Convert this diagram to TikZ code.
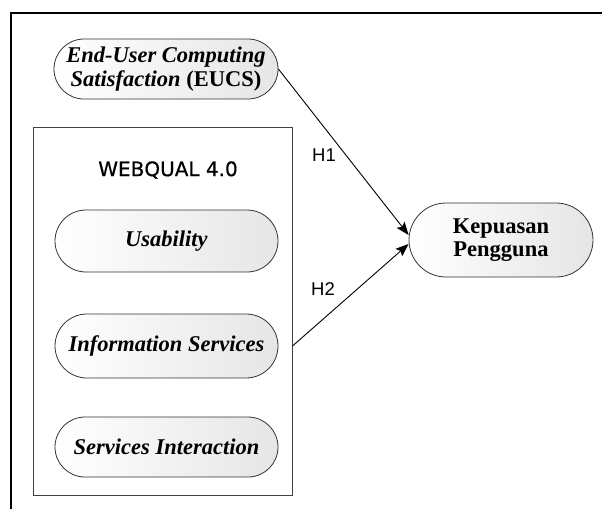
\documentclass[tikz,border=0pt]{standalone}
\usepackage{fontspec}
\setmainfont{Liberation Serif}
\newfontfamily\wqfont[FakeBold=0.6]{DejaVu Sans}
\newfontfamily\hfont{Liberation Sans}
\usetikzlibrary{shapes.misc,arrows.meta,calc}
\begin{document}
\begin{tikzpicture}[x=1pt,y=-1pt,
  pill/.style={rounded rectangle, draw=black!80, line width=0.8pt,
    left color=white, right color=black!10, align=center,
    font=\bfseries\fontsize{22.5}{23.5}\selectfont, inner sep=0pt},
  grpbox/.style={rectangle, draw=black!75, line width=1pt, inner sep=0pt},
  hlabel/.style={font=\hfont\fontsize{18.5}{18.5}\selectfont, inner sep=0pt},
  link/.style={line width=0.9pt, -{Stealth[length=13pt,width=10pt,inset=2.5pt]}}]
\useasboundingbox (0,0) rectangle (602,509);
% outer frame
\draw[line width=2pt] (11,509) -- (11,13) -- (603,13);
% nodes
\node[pill, minimum width=224pt, minimum height=60pt] (eucs) at (166,69)
  {\textit{End-User Computing}\\\textit{Satisfaction} (EUCS)};
\node[grpbox, minimum width=259pt, minimum height=368pt] (wq) at (162.5,311) {};
\node[font=\wqfont\fontsize{20}{20}\selectfont, inner sep=0pt] (wqtitle) at (168,170) {WEBQUAL 4.0};
\node[pill, minimum width=223pt, minimum height=62pt] (usab) at (166.5,241) {\textit{Usability}};
\node[pill, minimum width=223pt, minimum height=64pt] (info) at (166.5,346) {\textit{Information Services}};
\node[pill, minimum width=223pt, minimum height=60pt] (serv) at (166.5,447) {\textit{Services Interaction}};
\node[pill, minimum width=184pt, minimum height=74pt] (kep) at (501,240) {Kepuasan\\Pengguna};
% connectors
\coordinate (h2s) at (wq.east |- info.center);
\draw[link] (eucs.east) -- ($(kep.west)+(0,-5)$);
\draw[link] (h2s) -- ($(kep.west)+(0,4)$);
\node[hlabel] (h1) at (324,155) {H1};
\node[hlabel] (h2) at (323,289) {H2};
\end{tikzpicture}
\end{document}
